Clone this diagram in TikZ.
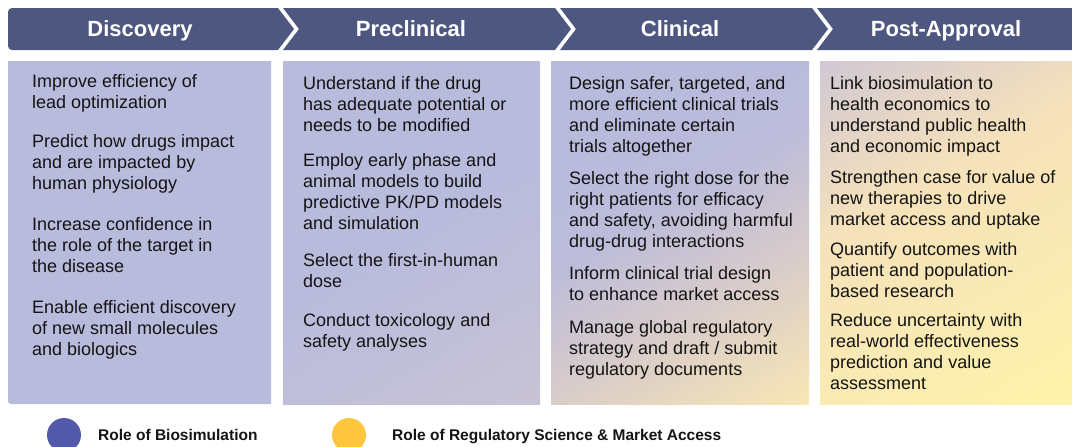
\documentclass[tikz,border=0pt]{standalone}
\usepackage{fontspec}
\setmainfont{Liberation Sans}
\definecolor{hdrcol}{RGB}{78,87,128}
\definecolor{lav}{RGB}{185,187,221}
\definecolor{lavb}{RGB}{188,188,218}
\definecolor{pinkl}{RGB}{200,195,212}
\definecolor{mid3}{RGB}{215,203,203}
\definecolor{yel3}{RGB}{248,230,180}
\definecolor{tl4}{RGB}{208,200,212}
\definecolor{m4a}{RGB}{230,214,197}
\definecolor{m4b}{RGB}{246,226,186}
\definecolor{m4c}{RGB}{249,233,180}
\definecolor{br4}{RGB}{254,243,170}
\definecolor{txtcol}{RGB}{20,20,20}
\definecolor{legblue}{RGB}{81,89,168}
\definecolor{legyel}{RGB}{254,198,63}
\pgfdeclarehorizontalshading{shtwo}{100bp}{color(0bp)=(lav); color(50bp)=(lav); color(84bp)=(pinkl); color(100bp)=(pinkl)}
\pgfdeclarehorizontalshading{shthree}{100bp}{color(0bp)=(lav); color(30bp)=(lav); color(45bp)=(lavb); color(62bp)=(mid3); color(84bp)=(yel3); color(100bp)=(yel3)}
\pgfdeclarehorizontalshading{shfour}{100bp}{color(0bp)=(tl4); color(16bp)=(tl4); color(30bp)=(m4a); color(42bp)=(m4b); color(60bp)=(m4c); color(84bp)=(br4); color(100bp)=(br4)}
\begin{document}
\begin{tikzpicture}[x=1pt,y=-1pt,
  hdr/.style={fill=hdrcol,draw=none},
  hdrtext/.style={anchor=base,inner sep=0pt,text=white,font=\fontsize{22}{26}\selectfont\bfseries},
  item/.style={anchor=north west,inner sep=0pt,align=left,text=txtcol,font=\fontsize{18}{21}\selectfont},
  legtext/.style={anchor=base west,inner sep=0pt,text=txtcol,font=\fontsize{15.5}{18}\selectfont\bfseries},
  legdot/.style={circle,inner sep=0pt,minimum size=34pt,draw=none}]
\useasboundingbox (0,0) rectangle (1072,447);
% header chevrons
\fill[hdr] (100,8) [rounded corners=4pt] -- (8,8) -- (8,50) [sharp corners] -- (278,50) -- (294,29) -- (278,8) -- cycle;
\fill[hdr] (283,8) -- (555,8) -- (571,29) -- (555,50) -- (283,50) -- (299,29) -- cycle;
\fill[hdr] (560,8) -- (812,8) -- (828,29) -- (812,50) -- (560,50) -- (576,29) -- cycle;
\fill[hdr] (817,8) -- (1072,8) -- (1072,50) -- (817,50) -- (833,29) -- cycle;
\node[hdrtext] (h1) at (140,36) {Discovery};
\node[hdrtext] (h2) at (411,36) {Preclinical};
\node[hdrtext] (h3) at (680,36) {Clinical};
\node[hdrtext] (h4) at (946,36) {Post-Approval};
% content boxes
\fill[lav] (8,61) -- (271,61) -- (271,404) [rounded corners=3pt] -- (8,404) [sharp corners] -- (8,61) -- cycle;
\shade[shading=shtwo,shading angle=-60] (283,61) rectangle (540,404);
\shade[shading=shthree,shading angle=-60] (551,61) rectangle (809,404);
\shade[shading=shfour,shading angle=-60] (820,61) rectangle (1072,404);
% column 1
\node[item] (a1) at (32,74) {Improve efficiency of\\lead optimization};
\node[item] (a2) at (32,134) {Predict how drugs impact\\and are impacted by\\human physiology};
\node[item] (a3) at (32,217) {Increase confidence in\\the role of the target in\\the disease};
\node[item] (a4) at (32,300) {Enable efficient discovery\\of new small molecules\\and biologics};
% column 2
\node[item] (b1) at (303,76) {Understand if the drug\\has adequate potential or\\needs to be modified};
\node[item] (b2) at (303,153) {Employ early phase and\\animal models to build\\predictive PK/PD models\\and simulation};
\node[item] (b3) at (303,253) {Select the first-in-human\\dose};
\node[item] (b4) at (303,313) {Conduct toxicology and\\safety analyses};
% column 3
\node[item] (c1) at (569,76) {Design safer, targeted, and\\more efficient clinical trials\\and eliminate certain\\trials altogether};
\node[item] (c2) at (569,171) {Select the right dose for the\\right patients for efficacy\\and safety, avoiding harmful\\drug-drug interactions};
\node[item] (c3) at (569,266) {Inform clinical trial design\\to enhance market access};
\node[item] (c4) at (569,320) {Manage global regulatory\\strategy and draft / submit\\regulatory documents};
% column 4
\node[item] (d1) at (830,76) {Link biosimulation to\\health economics to\\understand public health\\and economic impact};
\node[item] (d2) at (830,170) {Strengthen case for value of\\new therapies to drive\\market access and uptake};
\node[item] (d3) at (830,242) {Quantify outcomes with\\patient and population-\\based research};
\node[item] (d4) at (830,313) {Reduce uncertainty with\\real-world effectiveness\\prediction and value\\assessment};
% legend
\node[legdot,fill=legblue] (l1) at (64,435) {};
\node[legtext] (t1) at (98,440) {Role of Biosimulation};
\node[legdot,fill=legyel] (l2) at (349,435) {};
\node[legtext] (t2) at (392,440) {Role of Regulatory Science \& Market Access};
\end{tikzpicture}
\end{document}
